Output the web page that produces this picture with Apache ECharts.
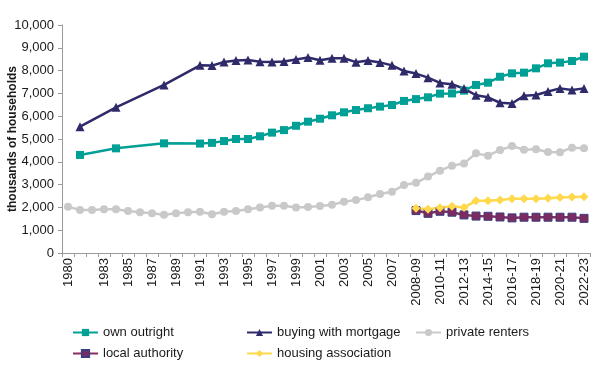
<!DOCTYPE html>
<html>
<head>
<meta charset="utf-8">
<script src="https://cdn.jsdelivr.net/npm/echarts@6/dist/echarts.min.js"></script>
<style>html,body{margin:0;padding:0;background:#fff;}#chart{width:606px;height:365px;}</style>
</head>
<body>
<div id="chart"></div>
<script>
const categories = ['1980','1981','1982','1983','1984','1985','1986','1987','1988','1989',
  '1990','1991','1992','1993','1994','1995','1996','1997','1998','1999',
  '2000','2001','2002','2003','2004','2005','2006','2007','2007-08','2008-09',
  '2009-10','2010-11','2011-12','2012-13','2013-14','2014-15','2015-16','2016-17','2017-18','2018-19',
  '2019-20','2020-21','2021-22','2022-23'];
const tickLabels = ['1980','1983','1985','1987','1989','1991','1993','1995','1997','1999','2001','2003','2005','2007',
  '2008-09','2010-11','2012-13','2014-15','2016-17','2018-19','2020-21','2022-23'];
const yTicks = [0,1000,2000,3000,4000,5000,6000,7000,8000,9000,10000];

const ownOutright = [null,4300,null,null,4590,null,null,null,4810,null,
  null,4800,4830,4910,5000,5000,5120,5280,5390,5580,
  5760,5890,6040,6170,6270,6350,6420,6490,6670,6750,
  6830,6990,7000,7120,7370,7470,7730,7880,7910,8100,
  8320,8350,8420,8610];
const mortgage = [null,5540,null,null,6390,null,null,null,7370,null,
  null,8230,8220,8380,8440,8460,8390,8380,8400,8490,
  8575,8450,8540,8540,8370,8440,8360,8230,7980,7870,
  7690,7460,7400,7210,6920,6830,6590,6560,6900,6930,
  7080,7220,7150,7220];
const privateRenters = [2030,1890,1890,1920,1920,1840,1790,1740,1680,1740,
  1790,1810,1700,1810,1840,1920,2000,2070,2070,2000,
  2020,2060,2120,2250,2320,2440,2590,2690,2980,3080,
  3350,3610,3830,3930,4370,4270,4520,4690,4530,4550,
  4430,4420,4620,4590];
const localAuthority = [null,null,null,null,null,null,null,null,null,null,
  null,null,null,null,null,null,null,null,null,null,
  null,null,null,null,null,null,null,null,null,1860,
  1740,1830,1790,1670,1620,1610,1580,1540,1570,1570,
  1570,1570,1570,1520];
const housingAssociation = [null,null,null,null,null,null,null,null,null,null,
  null,null,null,null,null,null,null,null,null,null,
  null,null,null,null,null,null,null,null,null,1960,
  1920,1990,2050,2000,2290,2290,2320,2380,2380,2380,
  2400,2430,2460,2470];

const FONT = '"Liberation Sans", Arial, sans-serif';
const chart = echarts.init(document.getElementById('chart'), null, {renderer: 'canvas'});

function mk(name, data, color, symbol, size, extra) {
  return Object.assign({
    name: name, type: 'line', data: data, connectNulls: true,
    symbol: symbol, symbolSize: size, showSymbol: true, showAllSymbol: true,
    lineStyle: {color: color, width: 2.5},
    itemStyle: {color: color},
    emphasis: {disabled: true},
    animation: false
  }, extra || {});
}

const legendBase = {
  orient: 'vertical', top: 326, padding: 0, itemGap: 8, itemWidth: 25, itemHeight: 9,
  textStyle: {fontFamily: FONT, fontSize: 13, color: '#1a1a1a'}
};

chart.setOption({
  animation: false,
  grid: {left: 62, right: 16, top: 25, bottom: 112, containLabel: false, outerBoundsMode: 'none'},
  legend: [
    Object.assign({left: 72, data: ['own outright', 'local authority']}, legendBase),
    Object.assign({left: 246, data: ['buying with mortgage', 'housing association']}, legendBase),
    Object.assign({left: 415, data: ['private renters']}, legendBase)
  ],
  xAxis: {
    type: 'category', data: categories, boundaryGap: true,
    axisLine: {lineStyle: {color: '#9a9a9a', width: 1}},
    axisTick: {show: true, interval: 0, length: 4, lineStyle: {color: '#9a9a9a'}},
    axisLabel: {
      interval: function (i, v) { return tickLabels.indexOf(v) >= 0; },
      rotate: 90, margin: 5, fontFamily: FONT, fontSize: 13, color: '#1a1a1a'
    },
    splitLine: {show: false}
  },
  yAxis: {
    type: 'value', min: yTicks[0], max: yTicks[yTicks.length - 1], interval: 1000,
    name: 'thousands of households', nameLocation: 'middle', nameGap: 43, nameMoveOverlap: false,
    nameTextStyle: {fontFamily: FONT, fontSize: 12, fontWeight: 'bold', color: '#1a1a1a'},
    axisLine: {show: true, lineStyle: {color: '#9a9a9a', width: 1}},
    axisTick: {show: true, length: 4, lineStyle: {color: '#9a9a9a'}},
    axisLabel: {
      margin: 8, fontFamily: FONT, fontSize: 13, color: '#1a1a1a',
      formatter: function (v) { return v.toLocaleString('en-GB'); }
    },
    splitLine: {show: false}
  },
  series: [
    mk('own outright', ownOutright, '#00A096', 'rect', 8),
    mk('buying with mortgage', mortgage, '#2F2B6B', 'triangle', 9),
    mk('private renters', privateRenters, '#C9C9C9', 'circle', 8),
    mk('local authority', localAuthority, '#8A2C60', 'rect', 8, {
      itemStyle: {color: '#7E2A5E', borderColor: '#3B3F82', borderWidth: 1}
    }),
    mk('housing association', housingAssociation, '#FFD84C', 'diamond', 9)
  ]
});
</script>
</body>
</html>
